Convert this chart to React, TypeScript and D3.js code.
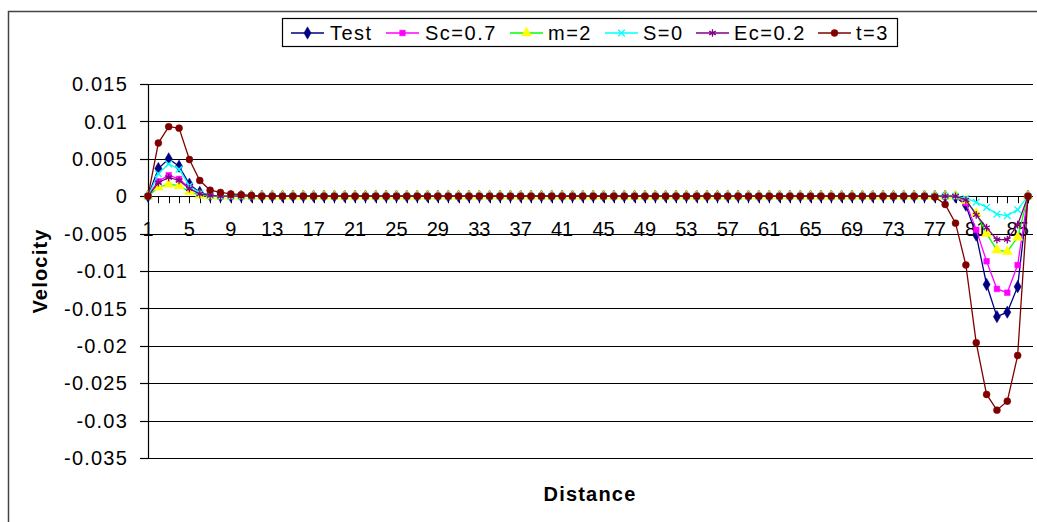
import React from "react";
import * as d3 from "d3";

const categories: number[] = d3.range(1, 87);
const xTickLabels = ["1","5","9","13","17","21","25","29","33","37","41","45","49","53","57","61","65","69","73","77","81","85"];
const yTicks = [0.015, 0.01, 0.005, 0, -0.005, -0.01, -0.015, -0.02, -0.025, -0.03, -0.035];
const yTickLabels = ["0.015","0.01","0.005","0","-0.005","-0.01","-0.015","-0.02","-0.025","-0.03","-0.035"];
const seriesNames = ["Test", "Sc=0.7", "m=2", "S=0", "Ec=0.2", "t=3"];

// indices 1..7, then zeros, then 79..86
const testVals = [0, 0.0037, 0.0050, 0.0040, 0.0016, 0.0005, 0.0001,
  0,0,0,0,0,0,0,0,0,0, 0,0,0,0,0,0,0,0,0,0, 0,0,0,0,0,0,0,0,0,0, 0,0,0,0,0,0,0,0,0,0, 0,0,0,0,0,0,0,0,0,0, 0,0,0,0,0,0,0,0,0,0, 0,0,0,0,0,0,0,0,0,0, 0,
  -0.0001, -0.0012, -0.0052, -0.0118, -0.0161, -0.0155, -0.0121, 0];
const scVals = [0, 0.0020, 0.0028, 0.0023, 0.0011, 0.0003, 0.0001,
  0,0,0,0,0,0,0,0,0,0, 0,0,0,0,0,0,0,0,0,0, 0,0,0,0,0,0,0,0,0,0, 0,0,0,0,0,0,0,0,0,0, 0,0,0,0,0,0,0,0,0,0, 0,0,0,0,0,0,0,0,0,0, 0,0,0,0,0,0,0,0,0,0, 0,
  0, -0.0009, -0.0045, -0.0087, -0.0124, -0.0129, -0.0092, 0];
const mVals = [0, 0.0012, 0.0016, 0.0014, 0.0006, 0.0001, 0,
  0,0,0,0,0,0,0,0,0,0, 0,0,0,0,0,0,0,0,0,0, 0,0,0,0,0,0,0,0,0,0, 0,0,0,0,0,0,0,0,0,0, 0,0,0,0,0,0,0,0,0,0, 0,0,0,0,0,0,0,0,0,0, 0,0,0,0,0,0,0,0,0,0, 0,
  0, -0.0006, -0.0023, -0.0050, -0.0072, -0.0074, -0.0055, 0];
const sVals = [0, 0.0030, 0.0043, 0.0036, 0.0014, 0.0004, 0.0001,
  0,0,0,0,0,0,0,0,0,0, 0,0,0,0,0,0,0,0,0,0, 0,0,0,0,0,0,0,0,0,0, 0,0,0,0,0,0,0,0,0,0, 0,0,0,0,0,0,0,0,0,0, 0,0,0,0,0,0,0,0,0,0, 0,0,0,0,0,0,0,0,0,0, 0,
  0, -0.0003, -0.0008, -0.0015, -0.0024, -0.0026, -0.0018, 0];
const ecVals = [0, 0.0018, 0.0025, 0.0021, 0.0010, 0.0003, 0.0001,
  0,0,0,0,0,0,0,0,0,0, 0,0,0,0,0,0,0,0,0,0, 0,0,0,0,0,0,0,0,0,0, 0,0,0,0,0,0,0,0,0,0, 0,0,0,0,0,0,0,0,0,0, 0,0,0,0,0,0,0,0,0,0, 0,0,0,0,0,0,0,0,0,0, 0,
  0, -0.0005, -0.0025, -0.0042, -0.0058, -0.0058, -0.0038, 0];
const tVals = [0, 0.0071, 0.0093, 0.0091, 0.0049, 0.0021, 0.0008, 0.0005, 0.0003, 0.0002, 0.0001,
  0,0,0,0,0,0,0,0,0, 0,0,0,0,0,0,0,0,0,0, 0,0,0,0,0,0,0,0,0,0, 0,0,0,0,0,0,0,0,0,0, 0,0,0,0,0,0,0,0,0,0, 0,0,0,0,0,0,0,0,0,0, 0,0,0,0,0,0,
  -0.0001, -0.0011, -0.0036, -0.0092, -0.0196, -0.0265, -0.0286, -0.0274, -0.0213, 0];

const seriesValues = [testVals, scVals, mVals, sVals, ecVals, tVals];
const lineColors = ["#000080", "#FF00FF", "#00FF00", "#00FFFF", "#800080", "#800000"];
const markerColors = ["#000080", "#FF00FF", "#FFFF00", "#00FFFF", "#800080", "#800000"];

const FONT = "'Liberation Sans', Arial, sans-serif";

function markerPath(i: number): { d: string; filled: boolean } {
  const types = [d3.symbolDiamond, d3.symbolSquare, d3.symbolTriangle, d3.symbolTimes, d3.symbolAsterisk, d3.symbolCircle];
  const sizes = [44, 32, 44, 30, 40, 38];
  const filled = [true, true, true, false, false, true];
  return { d: d3.symbol(types[i], sizes[i])() as string, filled: filled[i] };
}

export default function App() {
  const W = 1037, H = 522;
  const x = d3.scaleLinear().domain([1, 86]).range([148, 1028]);
  const y = d3.scaleLinear().domain([-0.035, 0.015]).range([458, 84]);
  const gridRight = 1033;
  const line = d3.line<number>().x((_, i) => x(categories[i])).y((v) => y(v));

  const legendEntries = [
    { lx: 291, tx: 330 },
    { lx: 386, tx: 425 },
    { lx: 510, tx: 548 },
    { lx: 605, tx: 643 },
    { lx: 696, tx: 734 },
    { lx: 818, tx: 856 },
  ];

  return (
    <svg width={W} height={H} style={{ position: "absolute", left: 0, top: 0, background: "#fff" }} fontFamily={FONT}>
      <rect x={0} y={0} width={W} height={H} fill="#fff" />
      <rect x={8.5} y={11.5} width={1100} height={600} fill="none" stroke="#444" strokeWidth={1.5} />
      {yTicks.map((t, i) => (
        <line key={"g" + i} x1={148} x2={gridRight} y1={Math.round(y(t)) + 0.5} y2={Math.round(y(t)) + 0.5} stroke="#000" strokeWidth={1.2} />
      ))}
      <line x1={148.5} x2={148.5} y1={y(0.015)} y2={y(-0.035)} stroke="#000" strokeWidth={1.2} />
      {yTicks.map((t, i) => (
        <g key={"yt" + i}>
          <line x1={140} x2={148} y1={Math.round(y(t)) + 0.5} y2={Math.round(y(t)) + 0.5} stroke="#000" strokeWidth={1.2} />
          <text x={128} y={y(t)} dy="0.36em" textAnchor="end" fontSize={20} letterSpacing={1.2} fill="#000">{yTickLabels[i]}</text>
        </g>
      ))}
      {categories.map((c, i) => (
        <line key={"xt" + i} x1={Math.round(x(c)) + 0.5} x2={Math.round(x(c)) + 0.5} y1={y(0)} y2={y(0) + 7} stroke="#000" strokeWidth={1} />
      ))}
      {xTickLabels.map((l, i) => (
        <text key={"xl" + i} x={x(+l)} y={229} dy="0.36em" textAnchor="middle" fontSize={20} fill="#000">{l}</text>
      ))}
      {seriesValues.map((vals, si) => {
        const m = markerPath(si);
        return (
          <g key={"s" + si}>
            <path d={line(vals) as string} fill="none" stroke={lineColors[si]} strokeWidth={1.3} />
            {vals.map((v, i) => (
              <path key={i} d={m.d} transform={`translate(${x(categories[i])},${y(v)})`}
                fill={m.filled ? markerColors[si] : "none"} stroke={markerColors[si]} strokeWidth={m.filled ? 0.5 : 1.3} />
            ))}
          </g>
        );
      })}
      <text x={590} y={494} dy="0.36em" textAnchor="middle" fontSize={20} fontWeight="bold" letterSpacing={1.2} fill="#000">Distance</text>
      <text transform={`translate(40,271) rotate(-90)`} dy="0.36em" textAnchor="middle" fontSize={20} fontWeight="bold" letterSpacing={1.2} fill="#000">Velocity</text>
      <rect x={282.5} y={18.5} width={615} height={28} fill="#fff" stroke="#000" strokeWidth={1.2} />
      {legendEntries.map((e, i) => {
        const m = markerPath(i);
        return (
          <g key={"lg" + i}>
            <line x1={e.lx} x2={e.lx + 33} y1={33} y2={33} stroke={lineColors[i]} strokeWidth={1.5} />
            <path d={m.d} transform={`translate(${e.lx + 16.5},33)`} fill={m.filled ? markerColors[i] : "none"} stroke={markerColors[i]} strokeWidth={m.filled ? 0.5 : 1.3} />
            <text x={e.tx} y={33} dy="0.36em" fontSize={20} letterSpacing={1.5} fill="#000">{seriesNames[i]}</text>
          </g>
        );
      })}
    </svg>
  );
}
